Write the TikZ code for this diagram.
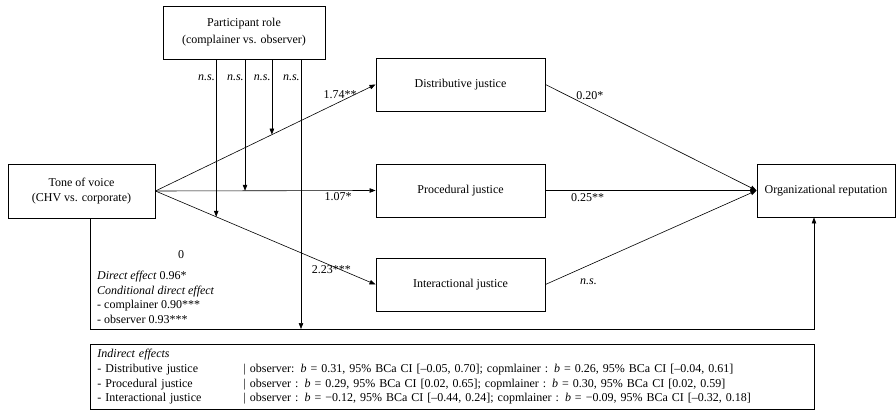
\documentclass[tikz,border=0pt]{standalone}
\usepackage{fontspec}
\setmainfont{Liberation Serif}
\usetikzlibrary{arrows.meta, positioning}

\begin{document}
\begin{tikzpicture}[x=1pt, y=-1pt, >={Triangle[length=6pt, width=4.5pt]},
  font=\fontsize{12}{15}\selectfont,
  box/.style={draw, line width=0.9pt, rectangle, minimum height=53pt, text centered, align=center, inner sep=2pt},
  link/.style={->, line width=0.6pt},
  coef/.style={inner sep=1pt},
  ns/.style={inner sep=1pt, font=\fontsize{12}{15}\selectfont\itshape}]

  \useasboundingbox (0,0) rectangle (896,411);

  \node [box, minimum width=162pt] (role) at (244,32.5) {Participant role\\[2pt](complainer vs. observer)};
  \node [box, minimum width=147pt, minimum height=54pt] (tone) at (81.5,191) {Tone of voice\\(CHV vs. corporate)};
  \node [box, minimum width=169pt] (dist) at (460.5,84.5) {Distributive justice};
  \node [box, minimum width=169pt] (proc) at (460.5,190.5) {Procedural justice};
  \node [box, minimum width=169pt] (inter) at (460.5,284.5) {Interactional justice};
  \node [box, minimum width=138pt] (org) at (826,190.5) {Organizational reputation};
  \node [coef] (zero) at (181,255) {0};
  \node [coef, anchor=north west, align=left, font=\fontsize{12}{14.5}\selectfont] (direct) at (96,270)
    {\textit{Direct effect} 0.96*\\\textit{Conditional direct effect}\\- complainer 0.90***\\- observer 0.93***};
  \node [box, anchor=north west, minimum width=724pt, minimum height=65pt, text width=710pt, align=left,
    inner xsep=7pt, font=\fontsize{12}{14.7}\selectfont] (indirect) at (90,344)
    {\begin{tabular}{@{}p{146pt}@{}l@{}}
      \textit{Indirect effects} & \\
      - Distributive justice & | observer: \textit{b} = 0.31, 95\% BCa CI [–0.05, 0.70]; copmlainer : \textit{b} = 0.26, 95\% BCa CI [–0.04, 0.61]\\
      - Procedural justice & | observer : \textit{b} = 0.29, 95\% BCa CI [0.02, 0.65]; copmlainer : \textit{b} = 0.30, 95\% BCa CI [0.02, 0.59]\\
      - Interactional justice & | observer : \textit{b} = −0.12, 95\% BCa CI [–0.44, 0.24]; copmlainer : \textit{b} = −0.09, 95\% BCa CI [–0.32, 0.18]
    \end{tabular}};
  \coordinate (dcorner) at (814,329);
  \coordinate (m4) at (301,329);

  \draw [link] (tone.east) -- coordinate[pos=0.529] (m1) node[coef, pos=0.92, anchor=east, yshift=-2pt] {1.74**} (dist.west);
  \draw [link] (tone.east) -- coordinate[pos=0.407] (m2) node[coef, pos=0.83, below=1pt] {1.07*} (proc.west);
  \draw [link] (tone.east) -- coordinate[pos=0.276] (m3) node[coef, pos=0.88, anchor=east, xshift=3pt, yshift=4pt] {2.23***} (inter.west);
  \draw [link] ([xshift=8.5pt]tone.south) |- (dcorner) -- (org.south -| dcorner);
  \draw [link] (role.south -| m3) node[ns, anchor=north east, yshift=-14pt] {n.s.} -- (m3);
  \draw [link] (role.south -| m2) node[ns, anchor=north east, yshift=-14pt] {n.s.} -- (m2);
  \draw [link] (role.south -| m1) node[ns, anchor=north east, yshift=-14pt] {n.s.} -- (m1);
  \draw [link] (role.south -| m4) node[ns, anchor=north east, yshift=-14pt] {n.s.} -- (m4);
  \draw [link] (dist.east) -- node[coef, pos=0.14, anchor=south west, yshift=-2pt] {0.20*} (org.west);
  \draw [link] (proc.east) -- node[coef, pos=0.2, below=2pt] {0.25**} (org.west);
  \draw [link] (inter.east) -- node[ns, pos=0.19, below=11pt, xshift=3pt] {n.s.} (org.west);
\end{tikzpicture}
\end{document}
